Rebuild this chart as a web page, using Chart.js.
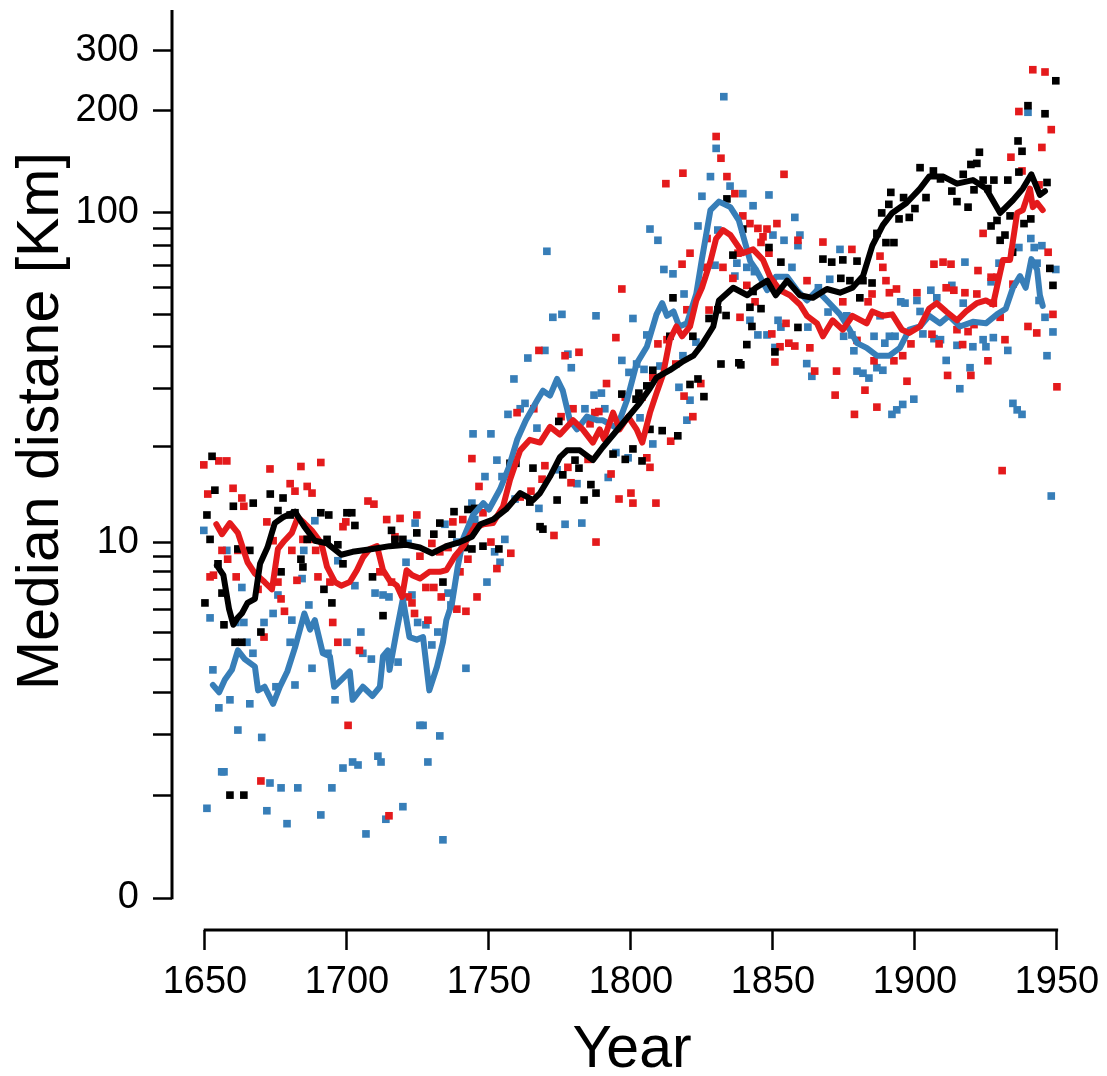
<!DOCTYPE html>
<html><head><meta charset="utf-8">
<script src="https://cdn.jsdelivr.net/npm/chart.js@4.4.1/dist/chart.umd.min.js"></script>
<style>html,body{margin:0;padding:0;background:#fff}canvas{display:block}</style>
</head><body>
<canvas id="c" width="1107" height="1076"></canvas>
<script>
// ---------- data ----------
const xTitle = 'Year';
const yTitle = 'Median distane [Km]';
const xTicks = [1650, 1700, 1750, 1800, 1850, 1900, 1950];
const yTickValues = [0,1,2,3,4,5,6,7,8,9,10,20,30,40,50,60,70,80,90,100,200,300];
const yTickLabelled = [0, 10, 100, 200, 300];

const blackLine = [[1654.2,8.4],[1656.5,7.8],[1658.5,6.0],[1660,5.3],[1661.5,5.6],[1663,5.8],[1665,6.3],[1667.6,6.5],[1669.4,8.5],[1672,9.6],[1674.6,11.5],[1677.5,12],[1681.7,12.5],[1685,11.2],[1688.7,10.1],[1693,9.9],[1698,9.1],[1702,9.3],[1709,9.5],[1715,9.7],[1721,9.8],[1725.7,9.6],[1730,9.2],[1735,9.7],[1739.8,10.0],[1744,10.4],[1747,11.4],[1751.4,11.8],[1756,12.7],[1761,14.3],[1765.5,13.6],[1768,14.3],[1771.5,16.1],[1775,18.5],[1777.5,19.4],[1782,19.4],[1786.6,18.1],[1790,19.8],[1797,23.4],[1803,27],[1806.7,30],[1809,32.3],[1813.7,34],[1818,36],[1822,37.6],[1825,40.6],[1829,46],[1831,55],[1836,60],[1841,57],[1844,60],[1848,63],[1851,57],[1855,63],[1859.5,57],[1864,56],[1869,59.5],[1873.6,58],[1878,60],[1881.7,65],[1885,80],[1888.7,92],[1892,100],[1897,107],[1901.8,118],[1905,128],[1910,128],[1914.8,122],[1920.4,125],[1925,118],[1930,100],[1934.5,109],[1938,118],[1941,130],[1944,113],[1945.8,116]];

const blueLine = [[1652.8,3.2],[1655,3.0],[1657,3.35],[1659.5,3.65],[1661.6,4.3],[1664,4.0],[1667.6,3.75],[1668.7,3.05],[1671,3.15],[1674,2.7],[1676.4,3.15],[1679,3.6],[1681.7,4.4],[1685,5.8],[1687,5.1],[1688.7,5.5],[1691.5,4.2],[1694,4.1],[1695.5,3.15],[1698,3.35],[1701,3.6],[1702,2.8],[1705.6,3.15],[1709,2.9],[1711.6,3.15],[1712.7,4.1],[1714.4,4.3],[1715,3.65],[1717.6,5.1],[1719.7,6.5],[1722,4.8],[1724.6,4.7],[1726.8,4.8],[1729,3.05],[1731.7,3.75],[1733.8,4.6],[1735,5.5],[1737,6.3],[1739,8.3],[1741,10.3],[1744.4,12.2],[1748,13.3],[1750,12.7],[1753.9,14.7],[1757,17.2],[1760,21],[1763,24],[1767,27.6],[1769,29.5],[1771.5,28.5],[1774,32],[1776,29.5],[1778.5,24],[1781,22.5],[1784.5,24.6],[1788,24],[1790,24],[1795,22.7],[1798.6,27.6],[1802,35.6],[1805.6,40],[1809,50],[1811,54],[1812.7,49.5],[1815,51],[1817,46],[1819.7,47],[1823,57.5],[1825,73],[1828,102],[1831,108],[1835,104],[1838,95],[1842,72],[1844,68],[1848,59],[1851,64.7],[1855,64.7],[1858.5,59],[1862,55],[1865.5,59],[1869,55],[1873.6,50],[1877,45],[1879.6,41],[1883,39.7],[1886.6,37.6],[1891,37.6],[1894.7,39.7],[1898,45],[1901.8,46],[1905,49.5],[1908.8,47],[1912,49.5],[1915.8,46],[1920.4,47.5],[1925,47],[1928.9,50],[1932,52],[1934.5,60],[1937,65],[1939,60],[1941,73],[1943,68],[1944,57],[1945,53]];

const redLine = [[1654,11.4],[1656,10.6],[1658.8,11.5],[1661.6,10.7],[1665,8.6],[1667.6,7.9],[1671,7.4],[1673.6,7.0],[1674.6,8.1],[1675.7,9.5],[1678,10.1],[1680.6,10.7],[1682.7,12],[1685,11.5],[1687.6,10.9],[1691,9.9],[1693,8.3],[1695.8,7.4],[1698,7.2],[1701,7.4],[1703.5,8.1],[1705.6,8.9],[1708,9.5],[1710.6,9.7],[1712.7,8.1],[1715,7.5],[1717.6,7.2],[1719.4,6.6],[1721,8.1],[1723,7.8],[1725.7,7.6],[1729,8.0],[1732.7,8.0],[1735,8.1],[1738,9.0],[1741,9.7],[1744.4,11.0],[1748,11.4],[1751.4,11.5],[1755,13],[1757.4,15.7],[1761,19.4],[1764.4,20.9],[1768,20.5],[1771.5,22.9],[1775,21.7],[1779.6,24],[1783,22.5],[1786.6,20.5],[1789,22.5],[1790.5,21],[1793.7,25.3],[1796,22.5],[1799,24.6],[1802,22.5],[1804,20.5],[1806.7,25.3],[1809,29],[1811.3,33],[1813.7,42],[1816,46],[1818,43],[1820.8,46],[1823,55],[1825,60],[1828,72],[1830,84],[1832.4,89],[1835,86],[1839.4,76],[1843,78],[1846.5,72.6],[1849,64.7],[1852.5,59],[1856,57],[1859.5,53.5],[1862,49.5],[1865.5,47],[1867.6,43],[1871,48],[1874.6,45],[1878,49.5],[1883,47],[1885,51],[1888.7,49.5],[1892,50],[1895.4,45],[1898,44],[1901.8,46],[1905,52],[1907.7,54],[1911,51],[1914.8,48],[1918,51],[1921.8,54],[1925,55],[1927.5,53.5],[1931,72.6],[1933.5,72.6],[1936,100],[1938,102],[1940.5,118],[1941.5,104],[1943,107],[1945,102]];

const blackPts = [[1650,6.3],[1650.7,12.2],[1651.8,10.2],[1652.5,18.6],[1653.5,14.6],[1654.6,8.5],[1656,6.8],[1656.7,5.3],[1658.8,1.0],[1660,13],[1660.6,4.6],[1661.6,9.5],[1663,4.6],[1663.7,1.0],[1665.8,9.4],[1667,13.3],[1669.7,5.0],[1673,14.2],[1675.7,12.6],[1676.8,8.0],[1677.5,13.8],[1680,12.2],[1681.7,12.4],[1683.8,8.8],[1684.5,8.3],[1686,10.2],[1690.8,12.4],[1691.9,7.0],[1693,10.2],[1693.6,12.2],[1694.7,6.3],[1696.8,9.8],[1698.6,8.5],[1700,12.4],[1701.7,12.4],[1702.8,11.3],[1709,7.7],[1712.7,5.7],[1715.7,10.9],[1716.9,10.2],[1719.7,10.2],[1724.6,10.7],[1730.6,10.6],[1732.7,11.5],[1733.8,7.4],[1737,10.6],[1737.7,12.5],[1741.5,9.6],[1742.6,12.7],[1744,9.5],[1745,12.8],[1747.9,9.7],[1753.5,9.5],[1757.4,17.7],[1759.5,17.7],[1764.4,13.4],[1765.5,17.1],[1768,11.2],[1769,11.0],[1774,13.6],[1774.6,23.8],[1776,16.3],[1780.3,18.1],[1781.7,17.1],[1783.5,13.6],[1785.9,15.2],[1787.7,14.3],[1793.7,18.9],[1796.8,28.8],[1798,18.2],[1800.7,19.6],[1801.8,27.8],[1802.8,29],[1803.9,18],[1805.6,30.5],[1806.7,22.5],[1807.7,34],[1811,22.3],[1813.7,43],[1814.8,56],[1816.5,21.5],[1820.8,30.8],[1821.8,43],[1823.6,32],[1825.7,28.3],[1827.5,48.6],[1830.6,51.6],[1831.7,35.5],[1833.5,49.6],[1833.8,110],[1835.9,75],[1838,35.8],[1838.7,35.3],[1839.4,89.6],[1840.8,40.6],[1841.9,52.5],[1842.6,46],[1843,58.5],[1845.8,52],[1848.6,79],[1850.7,38.6],[1852.8,71.5],[1858.8,45.7],[1867.6,73],[1870.7,71.5],[1873.9,64],[1874.6,72.6],[1877.1,63],[1879.6,72],[1880.6,56],[1881.7,63],[1884.9,62],[1886.6,87],[1888.3,100],[1889.8,81.7],[1890.8,106],[1891.5,115],[1892.6,81.7],[1894.4,96],[1896,111],[1898,97],[1900,103],[1901.8,136],[1903.9,111],[1906.5,133],[1909,126],[1913,116],[1914.8,108],[1917,130],[1918.7,104],[1919.7,139],[1920.8,117],[1921.8,140],[1922.7,151],[1924,125],[1925.7,118],[1926.8,91.5],[1927.8,125],[1928.9,95],[1930,83],[1931.7,86],[1932.7,125],[1933.5,98],[1934.4,76.5],[1936.3,163],[1936.6,132],[1937.7,152],[1938.4,93],[1939.8,207],[1940.8,96],[1945.8,196],[1946.5,123],[1947.5,68.5],[1948.6,61],[1949.6,245]];

const bluePts = [[1649.6,10.9],[1650.7,0.83],[1651.8,5.6],[1652.8,3.65],[1654.9,2.6],[1655.9,1.34],[1656.7,1.34],[1657.7,9.4],[1658.8,2.8],[1660.9,5.4],[1661.6,2.1],[1663,7.1],[1663.7,5.4],[1664.8,4.6],[1665.8,2.7],[1666.9,4.2],[1670,1.95],[1670.8,5.4],[1671.8,0.8],[1672.9,1.17],[1674,5.8],[1675,3.15],[1675.7,6.7],[1676.8,1.1],[1678.9,0.65],[1680,4.6],[1680.6,5.5],[1681.7,3.2],[1682.7,1.1],[1684.2,7.6],[1684.8,9.4],[1686.6,6.2],[1687.7,3.7],[1688.7,11.7],[1690.8,0.75],[1693.3,4.2],[1694.7,1.1],[1695.8,2.8],[1696.8,8.7],[1698.6,1.4],[1700,4.6],[1702,1.5],[1702.8,7.2],[1703.9,1.45],[1704.9,5.0],[1705.6,4.2],[1706.7,0.54],[1708.6,4.0],[1709.9,6.8],[1710.9,1.6],[1712,1.5],[1712.7,6.7],[1713.7,0.7],[1714.8,6.6],[1718,3.9],[1719.7,0.85],[1720.8,8.6],[1721.5,9.9],[1722.9,6.7],[1724,11.5],[1724.9,5.4],[1725.7,2.2],[1726.8,2.2],[1727.8,5.3],[1728.5,1.5],[1729.9,4.5],[1732,5.0],[1732.7,1.98],[1733.8,0.48],[1734.5,11.4],[1735.6,6.8],[1736.6,6.2],[1738.7,10],[1741.9,3.7],[1744,13.3],[1744.4,21.8],[1745,11.8],[1748.6,16.1],[1749.3,7.4],[1750.7,21.8],[1752,9.3],[1752.8,18.1],[1753.9,8.6],[1754.6,16.1],[1755.6,10.2],[1756.7,25],[1758.8,32],[1759.2,13.7],[1761,26],[1762.7,27],[1763.7,37],[1766.9,22.7],[1767.6,12.8],[1769.7,39],[1770.4,77],[1772.5,49],[1774,16.9],[1775.7,50],[1776.8,11.4],[1777.8,38],[1779,34.6],[1781,15.3],[1782.7,11.5],[1783.8,26],[1787,28.6],[1787.7,49.5],[1789.6,29],[1790.8,26],[1792,16],[1794.7,19.1],[1796.8,36.4],[1799,18.4],[1799.3,33.5],[1800.7,48.6],[1802,35.5],[1803.2,24.4],[1804.6,34.2],[1805.6,43.4],[1806.7,89.6],[1807.7,20.3],[1809.5,83],[1810.2,35],[1811.6,68],[1814.8,66],[1816.9,30.2],[1818.3,37.6],[1818.7,57.5],[1819.7,24],[1820.8,27.6],[1822.9,41.3],[1823.6,91.5],[1825,112],[1828,128],[1829.6,70],[1830,155],[1830.6,89],[1832.7,220],[1834.9,120],[1836.6,65],[1837.3,71],[1839.4,114],[1840.8,69],[1841.9,48],[1843,105],[1843.5,67],[1844.7,43.4],[1847.9,43.4],[1848.6,113],[1850,86],[1850.7,39.8],[1851.8,48],[1852.8,45.8],[1853.9,83],[1856.7,69],[1857.7,97],[1858.8,80],[1859.5,86],[1861.9,35.6],[1862.3,45.8],[1863.7,32.6],[1866,60],[1869.4,50.8],[1870,63.6],[1873.6,78],[1874.9,43],[1876,49.5],[1877.8,43.4],[1878.5,38.9],[1879.6,33.8],[1881.7,33.3],[1883.8,32.2],[1885.6,43],[1886.6,34.6],[1887.7,49.5],[1888.7,34],[1889.4,41],[1891,43],[1891.9,25],[1893,43],[1893.6,25.8],[1895,54.5],[1895.7,26.8],[1896.5,54],[1899.6,27.8],[1900.7,55],[1901.8,51],[1902.8,43.7],[1905.6,59],[1906.7,42.3],[1907.7,56],[1909,42],[1911,36.4],[1913,61],[1914.8,40.4],[1915.8,29.9],[1917,54],[1917.6,71.5],[1919.4,34.6],[1920.4,40],[1924,42],[1925,40],[1926.8,62.5],[1927.6,42.6],[1929.6,71],[1932.7,39],[1934.5,27],[1936,25.8],[1936.6,79],[1937.7,25],[1939.8,198],[1940.8,84],[1942,79],[1943,71],[1943.7,55],[1944.7,80],[1945.8,49],[1946.5,37.6],[1948,14],[1948.6,44.3],[1949.6,68]];

const redPts = [[1649.6,17.5],[1651,14.2],[1651.8,7.7],[1653,7.8],[1654.9,18],[1656,9.4],[1657.7,18],[1658,8.8],[1659.9,14.8],[1661,7.7],[1661.6,9.4],[1663,13.8],[1663.7,13],[1668.7,7.0],[1669.7,1.2],[1670.8,4.8],[1671.8,11.6],[1672.9,17],[1674,10.1],[1675.7,7.4],[1676.8,6.5],[1678,5.9],[1680,15.3],[1680.6,9.4],[1681.7,14.5],[1682.4,7.5],[1683.8,17.3],[1684.5,10.2],[1686,15],[1687,10.2],[1687.7,14.3],[1689,9.4],[1689.8,7.7],[1690.8,17.8],[1694,7.4],[1695,5.4],[1696.8,4.6],[1698.6,11.2],[1699.6,11.6],[1700.4,2.2],[1704.4,4.3],[1707.4,13.5],[1709.5,13.2],[1711.6,8.0],[1714,11.8],[1714.8,0.74],[1715.7,7.4],[1716.9,10.4],[1718.7,11.9],[1721.5,6.6],[1722.9,6.3],[1723.8,5.8],[1724.6,12.2],[1725.7,9.0],[1727.8,7.1],[1728.5,5.5],[1729.9,9.9],[1730.6,7.1],[1732.7,9.3],[1733.2,6.6],[1735.6,9.6],[1737.3,11.6],[1738.7,6.0],[1739.8,8.0],[1740.8,11.8],[1741.9,5.9],[1742.6,8.8],[1744,18.3],[1744.6,11.2],[1745.8,6.6],[1746.5,15.0],[1747.9,12.4],[1750.7,10],[1752.8,8.2],[1757.7,9.2],[1759.9,25.3],[1761,13.9],[1764.8,14.5],[1765.8,26],[1767.6,39],[1768.7,15.8],[1769.7,17.4],[1772.9,10.5],[1775.4,24.6],[1776.8,37.6],[1777.8,17.2],[1778.9,15.4],[1779.6,26],[1781.7,38.5],[1784.9,18.2],[1785.6,23.4],[1787.3,25.3],[1787.7,10.0],[1788.7,25.5],[1791.4,31],[1793,16.4],[1794.7,42.6],[1795.8,13.7],[1796.8,59.5],[1798,28.2],[1800,14.3],[1800.7,13.3],[1803.9,28.2],[1805.6,18.4],[1806.7,17.2],[1807.7,32.3],[1808.8,13.3],[1809.5,40.8],[1812.3,122],[1812.7,42],[1814,20.7],[1815.8,35.5],[1818,70.5],[1818.3,131],[1818.7,28.4],[1819.7,51.6],[1820.8,76],[1821.8,24.6],[1824.6,31],[1825.7,69],[1826.8,84],[1827.5,51.5],[1830,168],[1831.7,145],[1832.4,69],[1833.8,128],[1835.9,64],[1836.6,114],[1837.7,76],[1838.4,49],[1839.4,98],[1840.8,61],[1841.9,93],[1843.7,54.5],[1844.7,90],[1845.8,81.8],[1846.5,85],[1847.9,89.6],[1848.6,76],[1849.6,43.7],[1850.7,36],[1851.4,93],[1852.5,40],[1853.9,130],[1854.6,47],[1855.6,41],[1857.7,40.2],[1858.8,83],[1862,63],[1863,39.7],[1864.7,33.8],[1867.6,82],[1871.9,28.6],[1872.4,33.8],[1874.6,54.5],[1877.8,78],[1878.7,25],[1879.6,41.8],[1882.4,29.6],[1883.5,54.5],[1884.9,57.5],[1885.6,36.3],[1886.6,26.3],[1887.7,74.5],[1888.7,69],[1889.8,63],[1891,58],[1892.6,36.3],[1893.5,59.5],[1895.7,37.6],[1897.2,31.5],[1898.6,40.8],[1900.7,58],[1906,43.6],[1906.7,70.5],[1908.5,40.8],[1909.9,71.5],[1911,60],[1911.5,32.8],[1912.7,70.5],[1913.7,59],[1914.8,45],[1916.8,40.6],[1917.6,58],[1918.7,44.4],[1919.7,32.8],[1920.8,46.6],[1921.8,57.5],[1922.2,67.5],[1924,87],[1925.7,36.3],[1926.8,64.5],[1927.6,54],[1928.9,64.5],[1930,49],[1930.7,16.8],[1931.7,42],[1933.8,146],[1934.5,61.5],[1936.6,199],[1937.7,133],[1939.8,46],[1941.5,264],[1942.9,44],[1943.7,121],[1944.7,156],[1945.8,260],[1946.9,76.5],[1948,176],[1948.6,50],[1950,30.3]];

// ---------- styles ----------
const BLACK = '#000000', BLUE = '#377EB8', RED = '#E41A1C';
const FONT = '"Liberation Sans", Arial, Helvetica, sans-serif';

// axis value transform: log10(v + 1)
const toY = v => Math.log10(v + 1);
const mapPts = arr => arr.map(([x, v]) => ({ x, y: toY(v) }));

const lineDs = (data, color) => ({
  data: mapPts(data), showLine: true, borderColor: color, borderWidth: 6,
  pointRadius: 0, tension: 0, borderJoinStyle: 'round', borderCapStyle: 'round', fill: false
});
const ptDs = (data, color) => ({
  data: mapPts(data), showLine: false, pointStyle: 'rect', pointRadius: 5.4,
  backgroundColor: color, borderColor: color, borderWidth: 0, pointBorderWidth: 0
});

const rAxes = {
  id: 'rAxes',
  afterDraw(chart) {
    const { ctx, chartArea } = chart;
    const x = chart.scales.x, y = chart.scales.y;
    ctx.save();
    ctx.strokeStyle = '#000';
    ctx.lineWidth = 3;
    ctx.beginPath();
    ctx.moveTo(chartArea.left, chartArea.top);
    ctx.lineTo(chartArea.left, y.getPixelForValue(toY(0)) + 1.2);
    ctx.stroke();
    ctx.beginPath();
    ctx.moveTo(x.getPixelForValue(xTicks[0]) - 1.2, chartArea.bottom);
    ctx.lineTo(x.getPixelForValue(xTicks[xTicks.length - 1]) + 1.2, chartArea.bottom);
    ctx.stroke();
    ctx.fillStyle = '#000';
    ctx.font = '59px ' + FONT;
    ctx.textAlign = 'center';
    ctx.textBaseline = 'alphabetic';
    ctx.fillText(xTitle, 632, 1067);
    ctx.translate(58, 421);
    ctx.rotate(-Math.PI / 2);
    ctx.fillText(yTitle, 0, 0);
    ctx.restore();
  }
};

new Chart(document.getElementById('c'), {
  type: 'scatter',
  data: {
    datasets: [
      lineDs(blackLine, BLACK),
      lineDs(redLine, RED),
      lineDs(blueLine, BLUE),
      ptDs(blackPts, BLACK),
      ptDs(redPts, RED),
      ptDs(bluePts, BLUE)
    ]
  },
  options: {
    responsive: false,
    animation: false,
    devicePixelRatio: 1,
    events: [],
    layout: { padding: { top: 10, right: 37, left: 0, bottom: 0 } },
    plugins: { legend: { display: false }, tooltip: { enabled: false } },
    scales: {
      x: {
        type: 'linear',
        min: 1638.4, max: 1954.6,
        afterBuildTicks: s => { s.ticks = xTicks.map(v => ({ value: v })); },
        afterFit: s => { s.height = 146; s.paddingLeft = 0; s.paddingRight = 0; },
        grid: { display: true, drawOnChartArea: false, drawTicks: true, tickLength: 20, tickWidth: 2.5, tickColor: '#000' },
        border: { display: false },
        ticks: {
          autoSkip: false, maxRotation: 0, minRotation: 0, padding: 10, color: '#000',
          font: { family: FONT, size: 38 },
          callback: (v) => String(v)
        }
      },
      y: {
        type: 'linear',
        min: -0.0936, max: 2.598,
        afterBuildTicks: s => { s.ticks = yTickValues.map(v => ({ value: toY(v) })); },
        afterFit: s => { s.width = 172; s.paddingTop = 0; s.paddingBottom = 0; },
        grid: { display: true, drawOnChartArea: false, drawTicks: true, tickLength: 19, tickWidth: 2.5, tickColor: '#000' },
        border: { display: false },
        ticks: {
          autoSkip: false, padding: 14, color: '#000',
          font: { family: FONT, size: 38 },
          callback: (v, i) => yTickLabelled.includes(yTickValues[i]) ? String(yTickValues[i]) : ''
        }
      }
    }
  },
  plugins: [rAxes]
});
</script>
</body></html>
